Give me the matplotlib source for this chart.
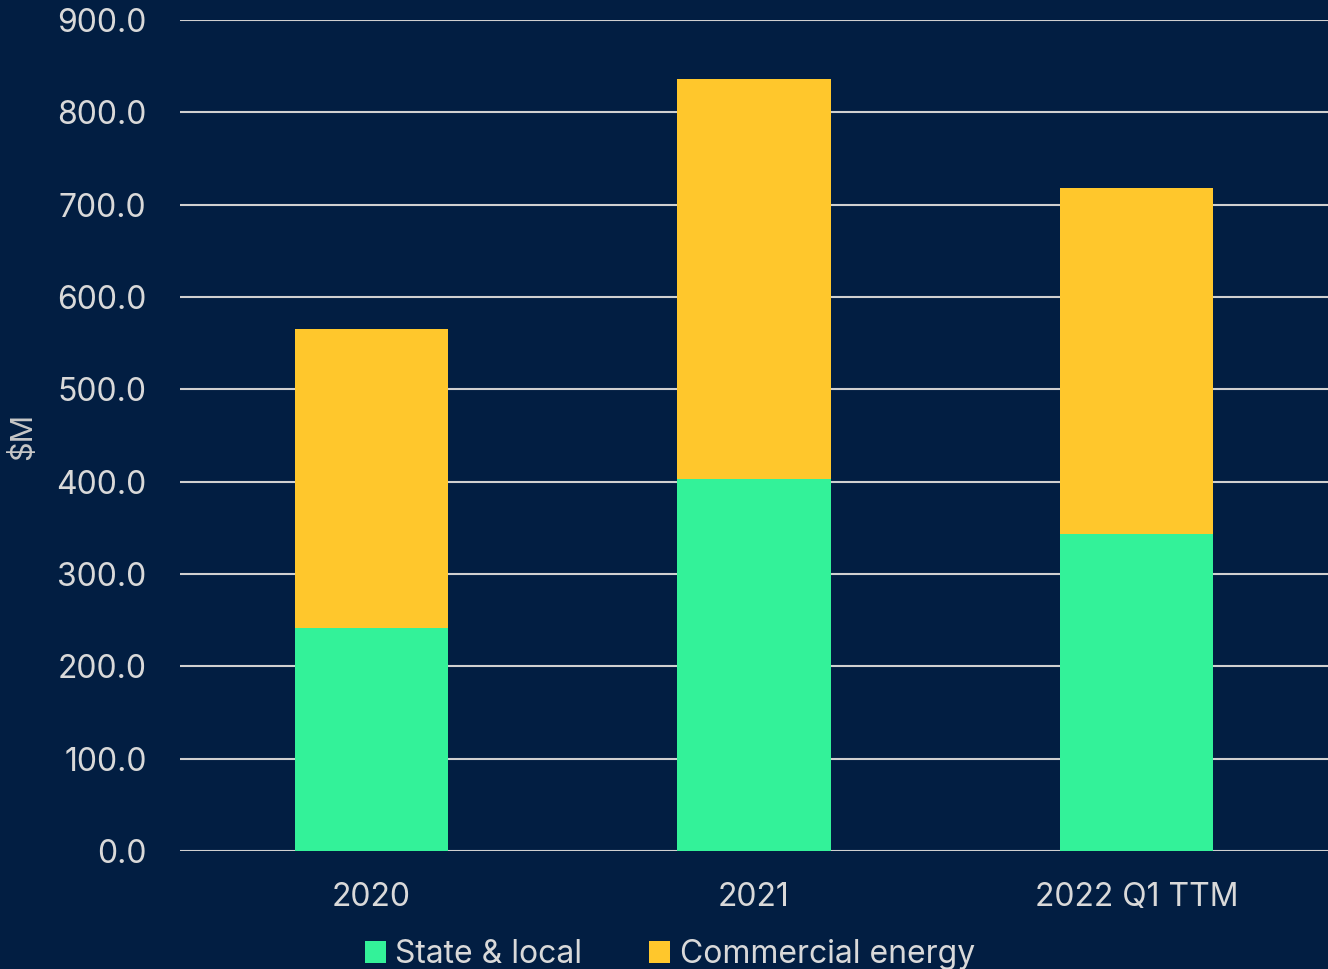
import numpy as np
import matplotlib
matplotlib.use("Agg")
import matplotlib.pyplot as plt

categories = ["2020", "2021", "2022 Q1 TTM"]
state_local = [241.5, 403.0, 343.5]
commercial_energy = [324.0, 433.0, 374.5]
y_ticks = [0, 100, 200, 300, 400, 500, 600, 700, 800, 900]

bg = "#021E42"
green = "#33F299"
yellow = "#FFC72C"
text_col = "#D9D9D9"

plt.rcParams["font.family"] = ["Inter", "DejaVu Sans"]

fig = plt.figure(figsize=(13.28, 9.69), dpi=100, facecolor=bg)
ax = fig.add_axes([0.1355, 0.1218, 0.8645, 0.8576], facecolor=bg)

x = np.arange(len(categories))
ax.set_axisbelow(True)
ax.yaxis.grid(True, color="#D0D0D0", linewidth=1.5)
ax.bar(x, state_local, width=0.4, color=green, label="State & local", zorder=3)
ax.bar(x, commercial_energy, width=0.4, bottom=state_local, color=yellow,
       label="Commercial energy", zorder=3)

ax.set_xlim(-0.5, 2.5)
ax.set_ylim(0, 900)
ax.set_yticks(y_ticks)
ax.set_yticklabels([f"{v:.1f}" for v in y_ticks])
ax.set_xticks(x)
ax.set_xticklabels(categories)
ax.tick_params(axis="both", length=0, labelsize=23, colors=text_col)
ax.tick_params(axis="y", pad=24)
ax.tick_params(axis="x", pad=22)
for s in ax.spines.values():
    s.set_visible(False)

fig.text(0.017, 0.55, "$M", rotation=90, ha="center", va="center",
         fontsize=22, color="#C8C8C8")

leg = fig.legend(loc="lower center", bbox_to_anchor=(0.5045, -0.031), ncol=2,
                 frameon=False, fontsize=23, handlelength=0.65, handleheight=0.65,
                 handletextpad=0.3, columnspacing=2.1)
for t in leg.get_texts():
    t.set_color(text_col)

fig.savefig("out.png", dpi=100, facecolor=bg)
